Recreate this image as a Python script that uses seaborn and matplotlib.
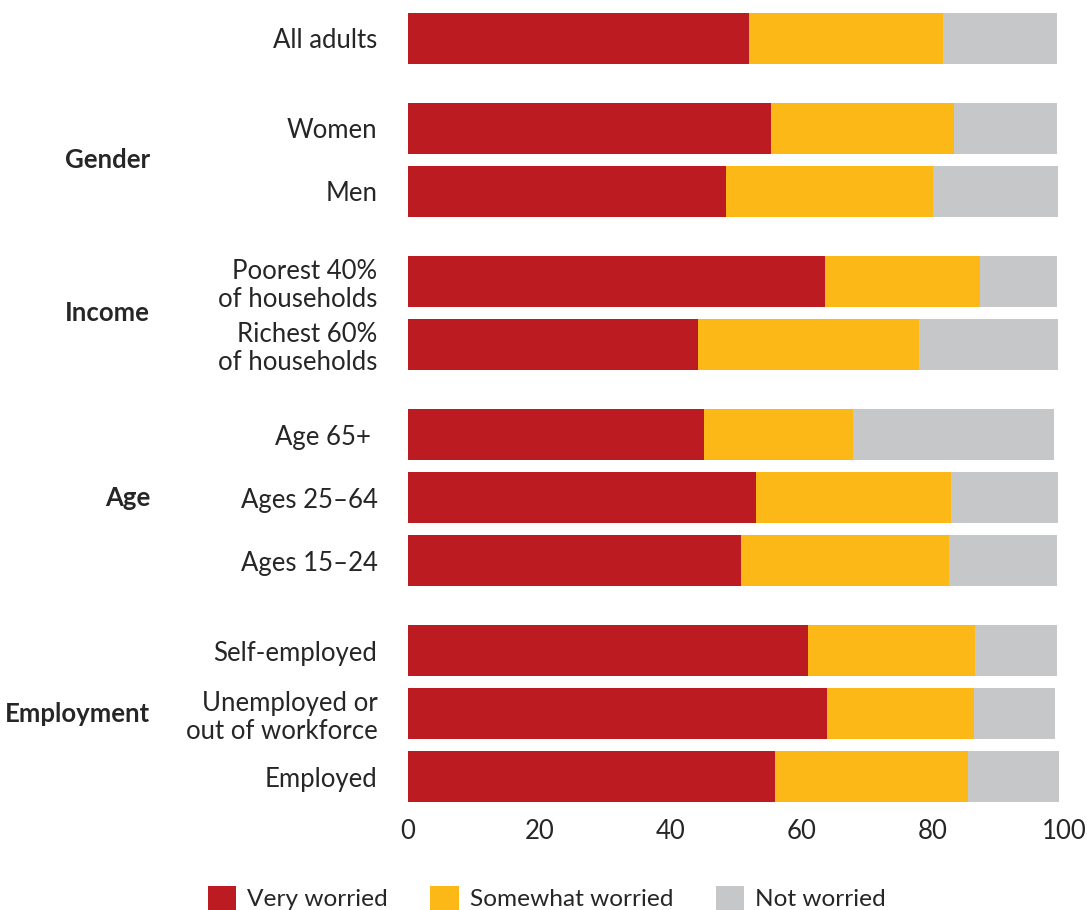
import matplotlib
matplotlib.use('Agg')
import matplotlib.pyplot as plt
import seaborn as sns
import pandas as pd
from matplotlib.patches import Patch
from matplotlib.transforms import blended_transform_factory

# data (% of adults)
categories = ['All adults', 'Women', 'Men',
              'Poorest 40%\nof households', 'Richest 60%\nof households',
              'Age 65+ ', 'Ages 25–64', 'Ages 15–24',
              'Self-employed', 'Unemployed or\nout of workforce', 'Employed']
groups = ['', 'Gender', 'Gender', 'Income', 'Income', 'Age', 'Age', 'Age',
          'Employment', 'Employment', 'Employment']
very_worried = [52.0, 55.4, 48.5, 63.5, 44.2, 45.1, 53.0, 50.8, 61.0, 63.8, 55.9]
somewhat_worried = [29.6, 27.9, 31.5, 23.7, 33.7, 22.8, 29.8, 31.7, 25.4, 22.5, 29.5]
not_worried = [17.4, 15.6, 19.1, 11.7, 21.2, 30.5, 16.3, 16.5, 12.6, 12.4, 13.9]
series = ['Very worried', 'Somewhat worried', 'Not worried']
colors = ['#BC1B21', '#FBB817', '#C6C7C9']
x_ticks = [0, 20, 40, 60, 80, 100]

sns.set_style('white')
plt.rcParams['font.family'] = ['Lato', 'DejaVu Sans']
FS = 18.5

# row positions: extra space between groups
pos = []
y = 0.0
for i, g in enumerate(groups):
    if i > 0:
        y += 1.0 if g == groups[i - 1] else 1.43
    pos.append(y)

df = pd.DataFrame({'pos': pos, 'category': categories, 'group': groups})
df['c1'] = very_worried
df['c2'] = df['c1'] + pd.Series(somewhat_worried)
df['c3'] = df['c2'] + pd.Series(not_worried)

fig = plt.figure(figsize=(10.87, 9.10), dpi=100)
ax = fig.add_axes([408 / 1087, 1 - 805 / 910, 656 / 1087, 795 / 910])

# stacked bars: draw cumulative totals from the back
for col, color in zip(['c3', 'c2', 'c1'], colors[::-1]):
    sns.barplot(data=df, x=col, y='pos', orient='h', native_scale=True,
                color=color, saturation=1, width=0.81, linewidth=0,
                errorbar=None, ax=ax)

ax.set_xlim(0, 100)
ax.set_ylim(pos[-1] + 0.45, -0.45)
ax.set_yticks(pos, categories, fontsize=FS, linespacing=1.15)
ax.set_xticks(x_ticks, [str(t) for t in x_ticks], fontsize=FS)
ax.tick_params(axis='y', length=0, pad=22)
ax.tick_params(axis='x', length=5, width=1.5, color='#333333', pad=5)
ax.set_xlabel('')
ax.set_ylabel('')
for s in ax.spines.values():
    s.set_visible(False)

# group labels
trans = blended_transform_factory(fig.transFigure, ax.transData)
for g in ['Gender', 'Income', 'Age', 'Employment']:
    ys = df.loc[df['group'] == g, 'pos']
    ax.text(150 / 1087, ys.mean(), g, transform=trans, ha='right', va='center',
            fontsize=FS, fontweight='bold')

handles = [Patch(facecolor=c, edgecolor='none', label=s) for s, c in zip(series, colors)]
fig.legend(handles=handles, loc='center', bbox_to_anchor=(0.503, 1 - 898 / 910),
           ncol=3, frameon=False, fontsize=17.6, handlelength=1.15, handleheight=1.15,
           handletextpad=0.45, columnspacing=1.75, borderpad=0)

fig.savefig('out.png', dpi=100)
